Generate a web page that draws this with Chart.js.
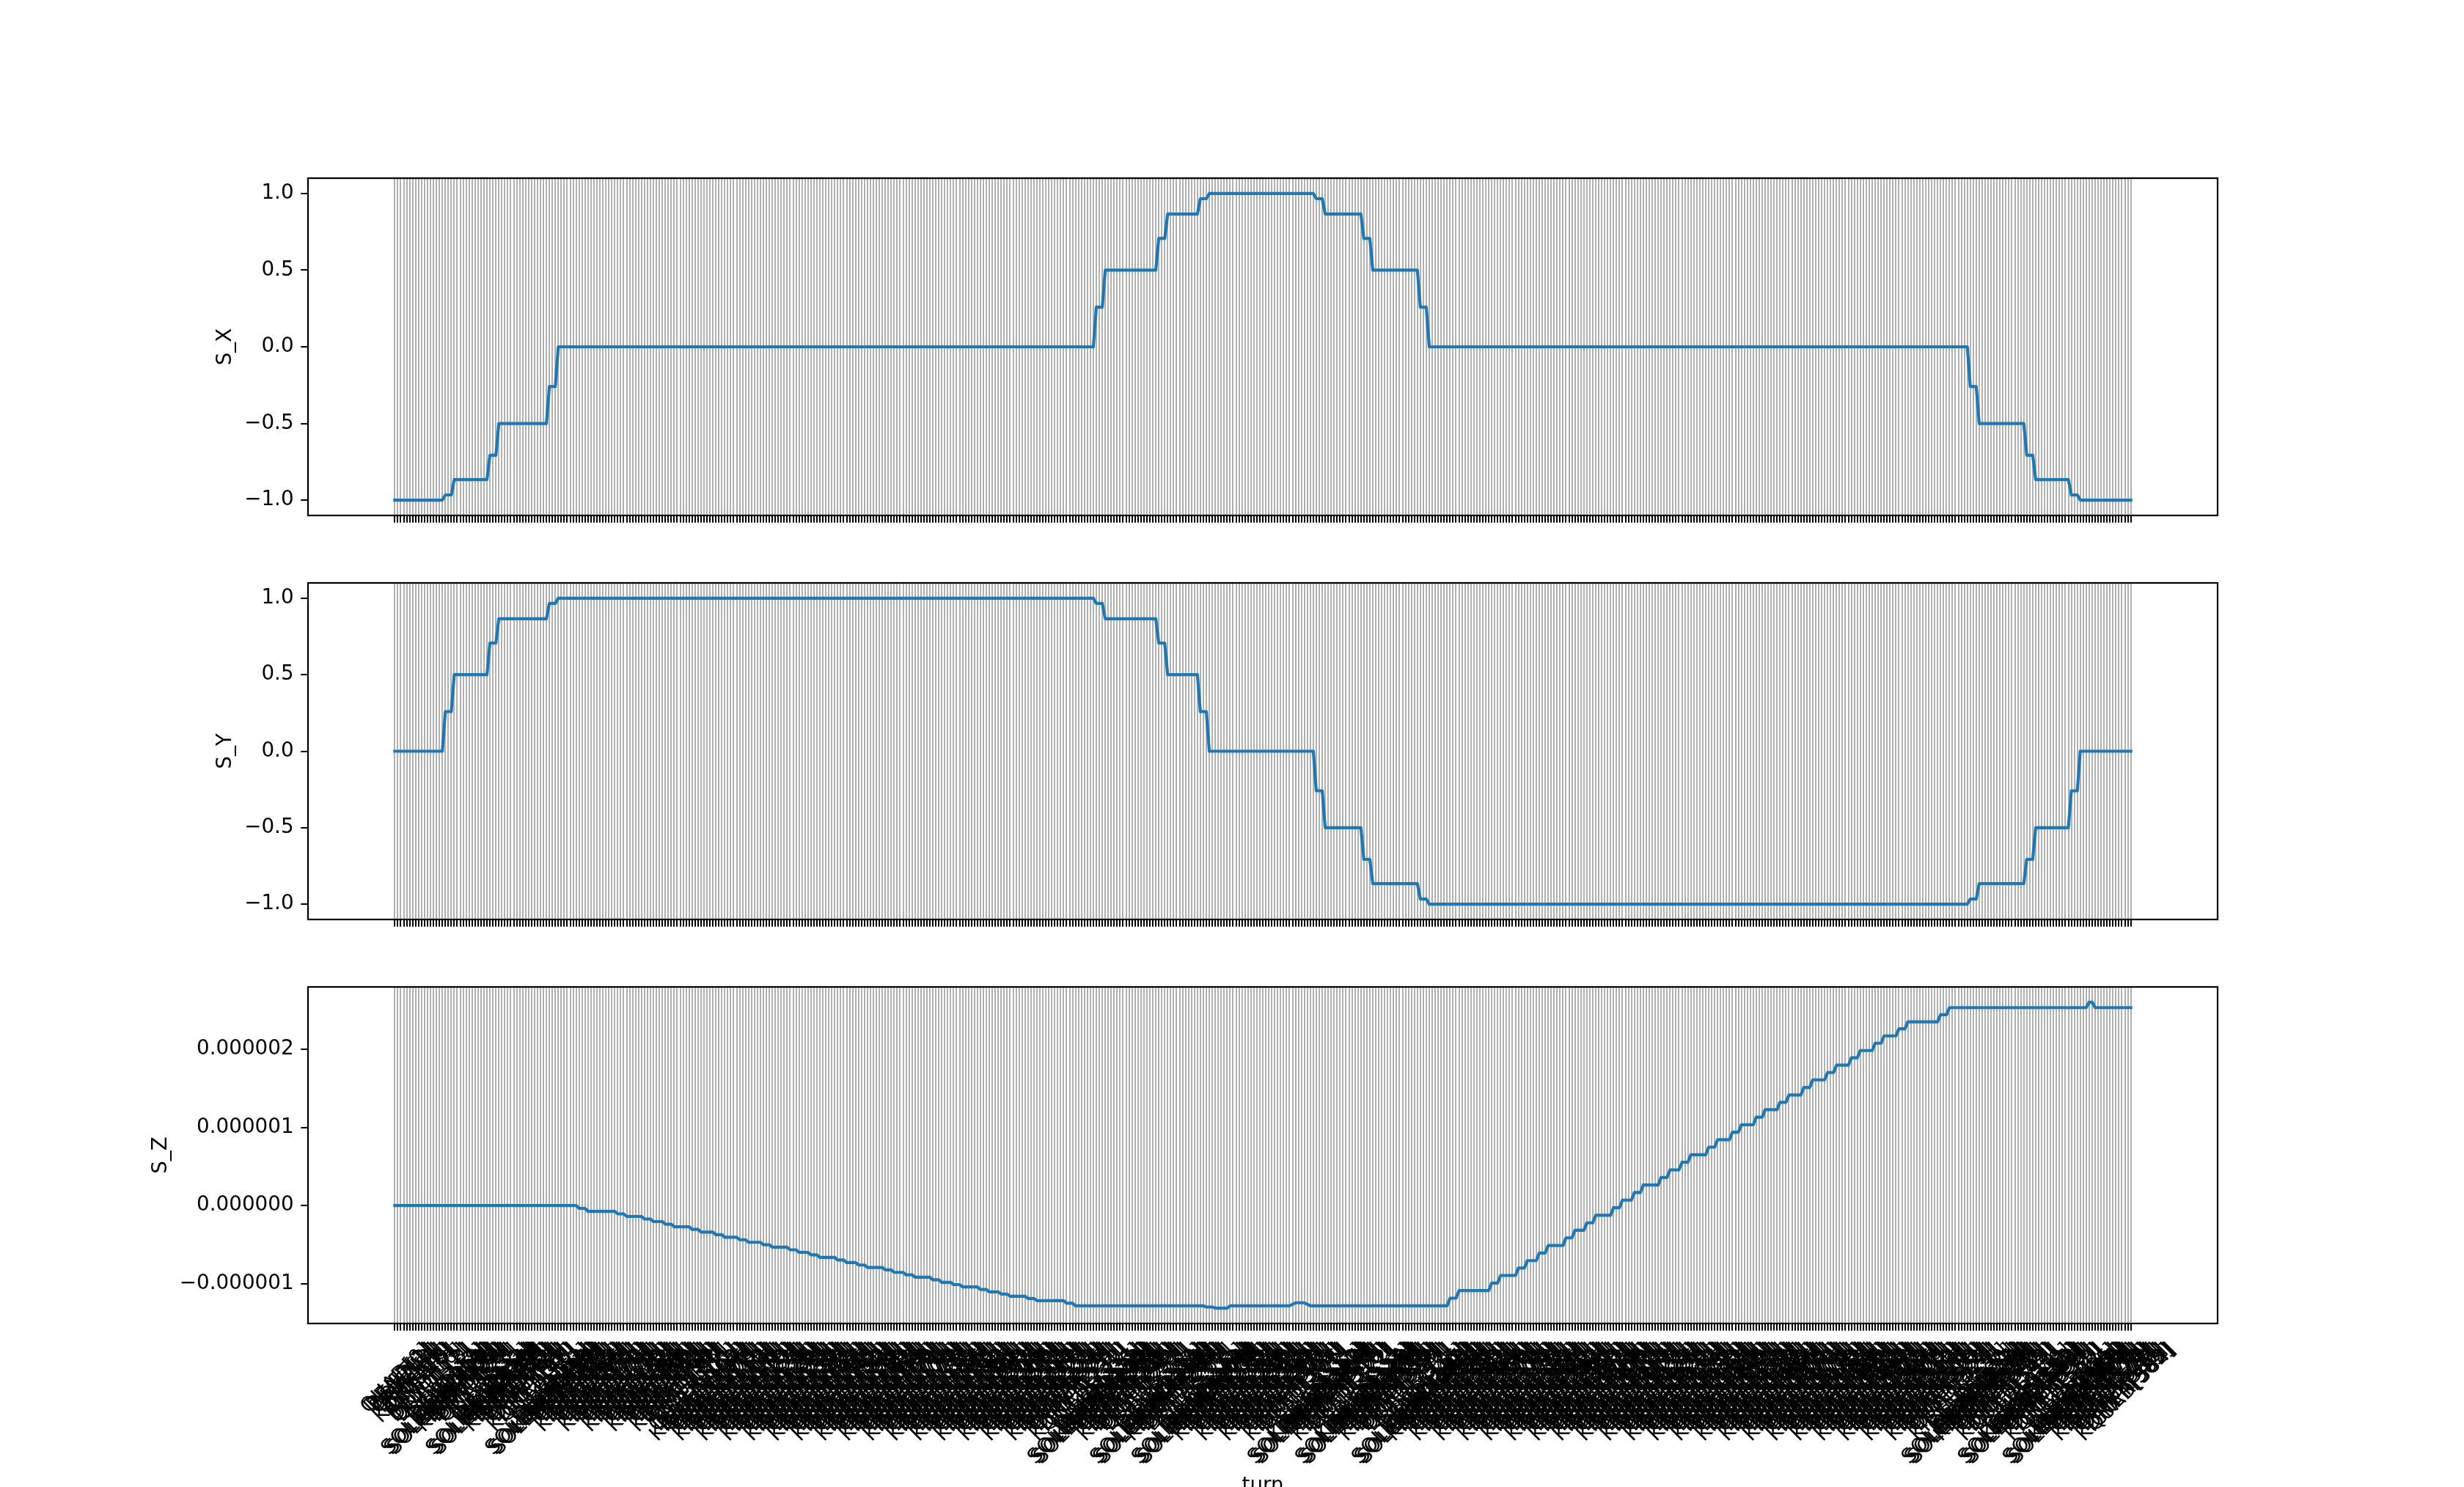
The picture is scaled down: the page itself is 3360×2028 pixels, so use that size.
<!DOCTYPE html>
<html>
<head>
<meta charset="utf-8">
<script src="https://cdn.jsdelivr.net/npm/chart.js@4.4.1/dist/chart.umd.min.js"></script>
<style>
  html, body { margin: 0; padding: 0; background: #ffffff; overflow: hidden; }
  body { width: 3360px; height: 2028px; position: relative; }
  canvas { position: absolute; left: 0; }
</style>
</head>
<body>
<canvas id="c1"></canvas>
<canvas id="c2"></canvas>
<canvas id="c3"></canvas>
<script>
// ---------------- DATA ----------------
// Spin components S_X / S_Y: run lengths (number of consecutive elements) and level of each run
const spinSegLengths = [17, 3, 12, 3, 17, 3, 181, 3, 18, 3, 11, 3, 36, 3, 13, 3, 16, 3, 182, 3, 16, 3, 12, 3, 18];
const sxLevels = [-1, -0.966, -0.866, -0.707, -0.5, -0.259, 0, 0.259, 0.5, 0.707, 0.866, 0.966, 1,
                  0.966, 0.866, 0.707, 0.5, 0.259, 0, -0.259, -0.5, -0.707, -0.866, -0.966, -1];
const syLevels = [0, 0.259, 0.5, 0.707, 0.866, 0.966, 1, 0.966, 0.866, 0.707, 0.5, 0.259, 0,
                  -0.259, -0.5, -0.707, -0.866, -0.966, -1, -0.966, -0.866, -0.707, -0.5, -0.259, 0];

// S_Z: run lengths and levels
const szSegLengths = [62, 3, 10, 3, 6, 3, 4, 3, 6, 3,
                      5, 3, 5, 3, 5, 3, 6, 3, 4, 3,
                      6, 3, 4, 3, 6, 3, 4, 3, 6, 3,
                      4, 3, 6, 3, 4, 3, 6, 3, 10, 3,
                      44, 3, 5, 21, 1, 4, 1, 47, 3, 11,
                      3, 6, 3, 4, 3, 6, 3, 4, 3, 6,
                      3, 4, 3, 6, 3, 4, 3, 6, 3, 5,
                      3, 5, 3, 5, 3, 5, 3, 5, 3, 5,
                      3, 5, 3, 5, 3, 11, 3, 47, 2, 13];
const szLevels = [0, -0.037e-6, -0.075e-6, -0.107e-6, -0.140e-6, -0.173e-6, -0.206e-6, -0.239e-6, -0.272e-6, -0.306e-6,
                  -0.340e-6, -0.373e-6, -0.406e-6, -0.438e-6, -0.471e-6, -0.502e-6, -0.534e-6, -0.567e-6, -0.600e-6, -0.632e-6,
                  -0.665e-6, -0.698e-6, -0.731e-6, -0.762e-6, -0.793e-6, -0.825e-6, -0.856e-6, -0.887e-6, -0.918e-6, -0.951e-6,
                  -0.984e-6, -1.013e-6, -1.043e-6, -1.075e-6, -1.106e-6, -1.134e-6, -1.162e-6, -1.190e-6, -1.218e-6, -1.251e-6,
                  -1.284e-6, -1.300e-6, -1.315e-6, -1.284e-6, -1.265e-6, -1.246e-6, -1.265e-6, -1.284e-6, -1.187e-6, -1.090e-6,
                  -0.993e-6, -0.896e-6, -0.801e-6, -0.706e-6, -0.609e-6, -0.512e-6, -0.415e-6, -0.318e-6, -0.222e-6, -0.125e-6,
                  -0.028e-6, 0.069e-6, 0.166e-6, 0.262e-6, 0.359e-6, 0.456e-6, 0.553e-6, 0.650e-6, 0.747e-6, 0.843e-6,
                  0.939e-6, 1.034e-6, 1.131e-6, 1.228e-6, 1.322e-6, 1.415e-6, 1.512e-6, 1.609e-6, 1.703e-6, 1.797e-6,
                  1.891e-6, 1.984e-6, 2.078e-6, 2.172e-6, 2.262e-6, 2.352e-6, 2.443e-6, 2.534e-6, 2.603e-6, 2.534e-6];

// Category (element) names along the turn
const cellElements = ["QUAD", "DRIFT", "BEND", "DRIFT", "QUAD", "DRIFT", "KICKER", "DRIFT"];
const solenoidName = "SOLENOID";

// Y tick values and labels
const unitTicks = [-1, -0.5, 0, 0.5, 1];
const unitTickLabels = ["\u22121.0", "\u22120.5", "0.0", "0.5", "1.0"];
const szTicks = [-1e-6, 0, 1e-6, 2e-6];
const szTickLabels = ["\u22120.000001", "0.000000", "0.000001", "0.000002"];

const yTitles = ["S_X", "S_Y", "S_Z"];
const xTitle = "turn";

// ---------------- BUILD ----------------
function expand(lengths, levels) {
  const out = [];
  lengths.forEach((n, k) => { for (let j = 0; j < n; j++) out.push(levels[k]); });
  return out;
}
const sx = expand(spinSegLengths, sxLevels);
const sy = expand(spinSegLengths, syLevels);
const sz = expand(szSegLengths, szLevels);
const N = sx.length;

const solenoidIdx = new Set();
(function () {
  let pos = 0;
  spinSegLengths.forEach((n, k) => {
    if (k % 2 === 1) { for (let j = pos - 3; j < pos; j++) solenoidIdx.add(j); }
    pos += n;
  });
})();
const categories = [];
for (let i = 0; i < N; i++) {
  categories.push(solenoidIdx.has(i) ? solenoidName + "[" + i + "]" : cellElements[i % cellElements.length] + "[" + i + "]");
}

const FONT = '"DejaVu Sans", sans-serif';
const FS = 27.78;
const TICKLEN = 9.72, PAD = 9.72, LABELPAD = 11.1, LW = 2.22, GW = 2;

function range(arr) {
  const mn = Math.min(...arr), mx = Math.max(...arr), m = (mx - mn) * 0.05;
  return [mn - m, mx + m];
}

const xMin = -0.05 * (N - 1), xMax = (N - 1) * 1.05;

const framePlugin = {
  id: 'frame',
  afterDraw(chart, args, opts) {
    const ctx = chart.ctx, ca = chart.chartArea;
    ctx.save();
    ctx.strokeStyle = '#000';
    ctx.lineWidth = LW;
    ctx.strokeRect(ca.left, ca.top, ca.right - ca.left, ca.bottom - ca.top);
    // y axis title
    ctx.font = FS + 'px ' + FONT;
    ctx.fillStyle = '#000';
    let maxW = 0;
    opts.tickLabels.forEach(t => { maxW = Math.max(maxW, ctx.measureText(t).width); });
    const X = ca.left - TICKLEN - PAD - maxW - LABELPAD - 0.236 * FS;
    const Y = (ca.top + ca.bottom) / 2;
    ctx.translate(X, Y);
    ctx.rotate(-Math.PI / 2);
    ctx.textAlign = 'center';
    ctx.textBaseline = 'alphabetic';
    ctx.fillText(opts.title, 0, 0);
    ctx.restore();

    if (opts.xLabels) {
      const xs = chart.scales.x;
      const H = 1.164 * FS, d = 0.236 * FS;
      const c = Math.SQRT1_2;
      const topY = ca.bottom + TICKLEN + PAD;
      ctx.save();
      ctx.font = FS + 'px ' + FONT;
      ctx.fillStyle = '#000';
      ctx.textAlign = 'left';
      ctx.textBaseline = 'alphabetic';
      categories.forEach((lab, i) => {
        const L = ctx.measureText(lab).width;
        const xt = xs.getPixelForValue(i);
        const sxp = xt - (L - H) * c / 2;
        const syp = topY + (L + H) * c;
        ctx.save();
        ctx.translate(sxp, syp);
        ctx.rotate(-Math.PI / 4);
        ctx.fillText(lab, 0, -d);
        ctx.restore();
      });
      ctx.textAlign = 'center';
      ctx.fillText(xTitle, (ca.left + ca.right) / 2, chart.height + 6);
      ctx.restore();
    }
  }
};

const panels = [
  { id: 'c1', top: 0, height: 749, padTop: 243, xh: 46, values: sx, lim: [-1.1, 1.1], ticks: unitTicks, labels: unitTickLabels, title: yTitles[0], xLabels: false },
  { id: 'c2', top: 749, height: 551, padTop: 46, xh: 46, values: sy, lim: [-1.1, 1.1], ticks: unitTicks, labels: unitTickLabels, title: yTitles[1], xLabels: false },
  { id: 'c3', top: 1300, height: 728, padTop: 46, xh: 223, values: sz, lim: range(sz), ticks: szTicks, labels: szTickLabels, title: yTitles[2], xLabels: true }
];

panels.forEach(p => {
  const cv = document.getElementById(p.id);
  cv.width = 3360; cv.height = p.height;
  cv.style.width = '3360px'; cv.style.height = p.height + 'px';
  cv.style.top = p.top + 'px';
  new Chart(cv, {
    type: 'line',
    data: {
      datasets: [{
        data: p.values.map((v, i) => ({ x: i, y: v })),
        borderColor: '#1f77b4',
        borderWidth: 4.17,
        pointRadius: 0,
        pointHoverRadius: 0,
        fill: false,
        tension: 0,
        borderJoinStyle: 'round',
        borderCapStyle: 'square'
      }]
    },
    options: {
      animation: false,
      responsive: false,
      devicePixelRatio: 1,
      events: [],
      layout: { padding: { top: p.padTop, right: 336, bottom: 0, left: 0 }, autoPadding: false },
      plugins: {
        legend: { display: false },
        tooltip: { enabled: false },
        frame: { title: p.title, tickLabels: p.labels, xLabels: p.xLabels }
      },
      scales: {
        x: {
          type: 'linear',
          min: xMin, max: xMax,
          afterBuildTicks: s => { s.ticks = categories.map((_, i) => ({ value: i })); },
          ticks: { display: false, autoSkip: false },
          grid: {
            display: true, drawOnChartArea: true, drawTicks: true,
            color: '#b0b0b0', lineWidth: GW,
            tickColor: '#000000', tickWidth: GW, tickLength: TICKLEN
          },
          border: { display: false },
          afterFit: s => { s.height = p.xh; }
        },
        y: {
          type: 'linear',
          min: p.lim[0], max: p.lim[1],
          afterBuildTicks: s => { s.ticks = p.ticks.map(v => ({ value: v })); },
          ticks: {
            autoSkip: false,
            callback: (v, i) => p.labels[i],
            font: { family: FONT, size: FS },
            color: '#000000',
            padding: PAD
          },
          grid: {
            display: true, drawOnChartArea: false, drawTicks: true,
            color: '#000000', lineWidth: GW,
            tickColor: '#000000', tickWidth: GW, tickLength: TICKLEN
          },
          border: { display: false },
          afterFit: s => { s.width = 420; }
        }
      }
    },
    plugins: [framePlugin]
  });
});
</script>
</body>
</html>
